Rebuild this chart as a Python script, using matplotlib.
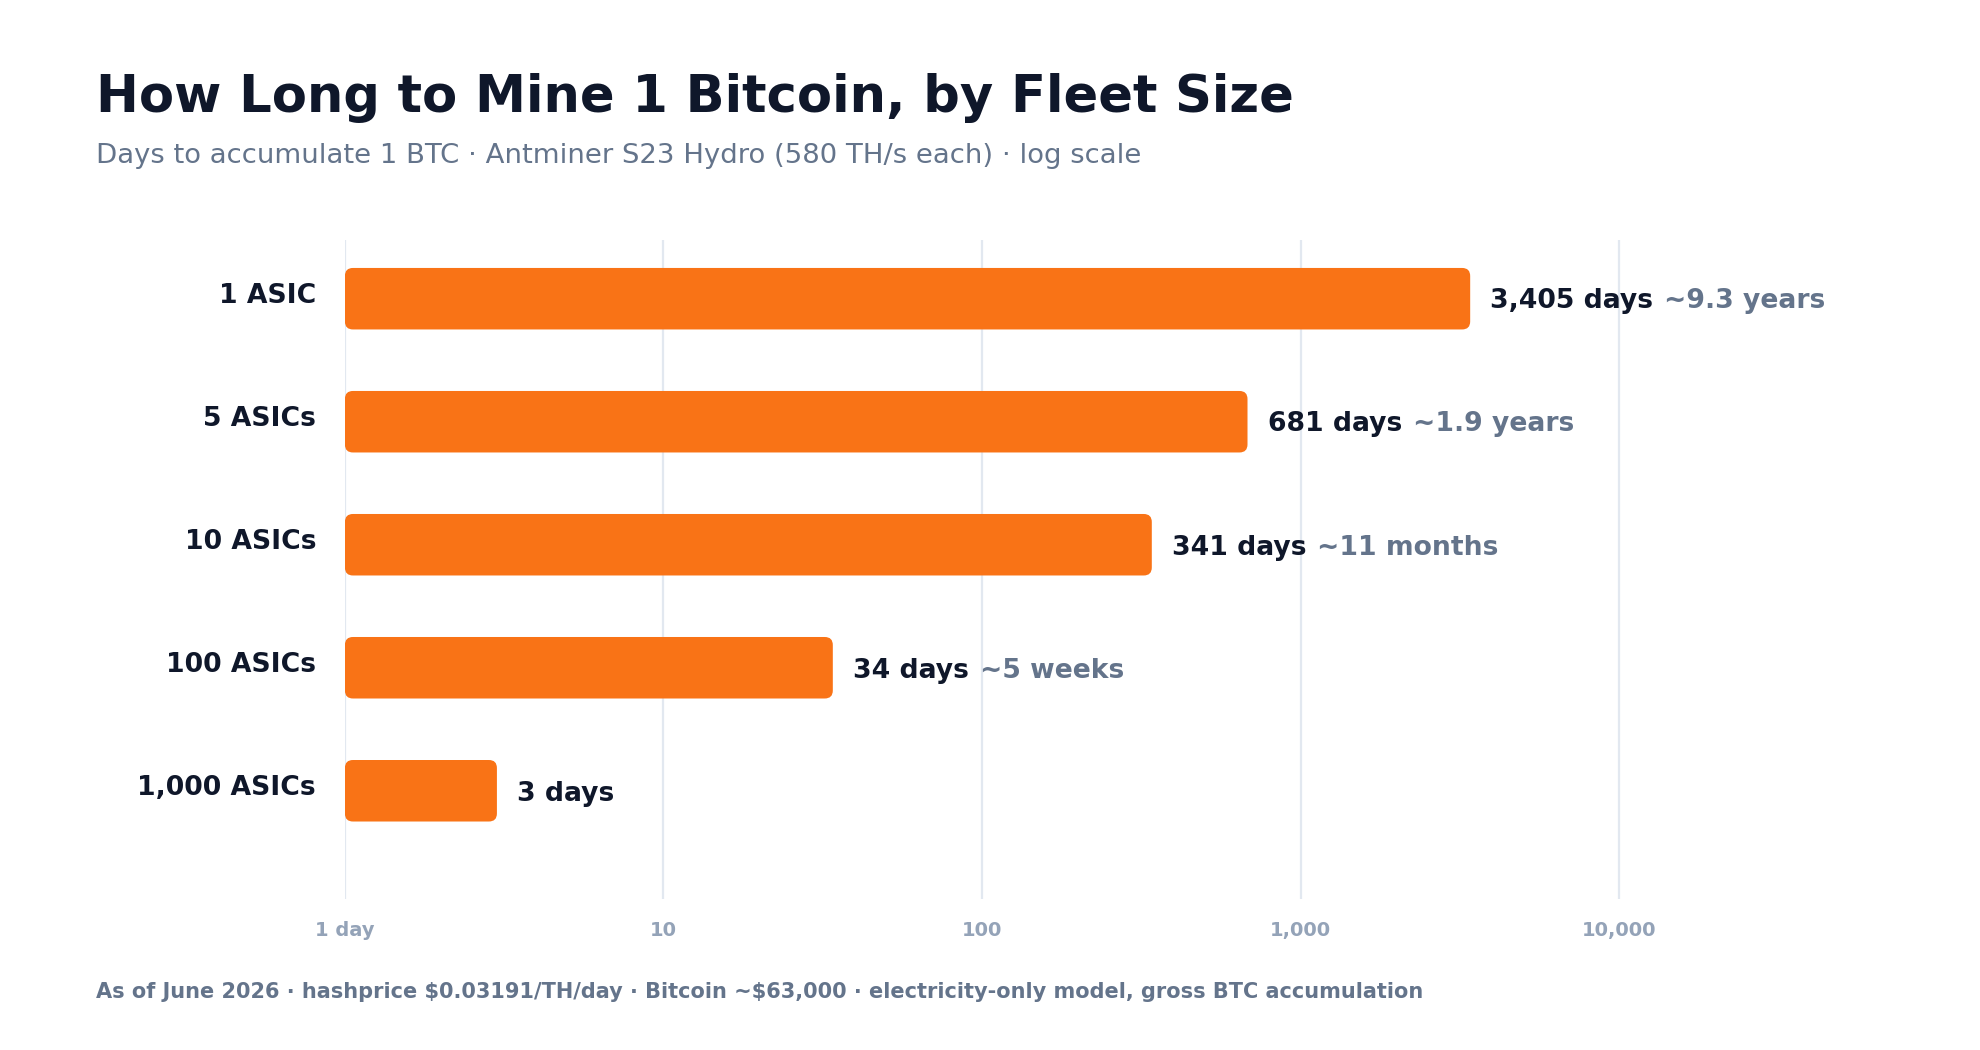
import matplotlib
matplotlib.use("Agg")
import matplotlib.pyplot as plt
from matplotlib.patches import FancyBboxPatch
from matplotlib.transforms import IdentityTransform, ScaledTranslation
from matplotlib.ticker import FixedLocator, NullLocator

fleet = ["1 ASIC", "5 ASICs", "10 ASICs", "100 ASICs", "1,000 ASICs"]
days = [3405, 681, 341, 34, 3]
day_labels = ["3,405 days", "681 days", "341 days", "34 days", "3 days"]
approx = ["~9.3 years", "~1.9 years", "~11 months", "~5 weeks", ""]
xticks = [1, 10, 100, 1000, 10000]
xtick_labels = ["1 day", "10", "100", "1,000", "10,000"]

DARK = "#0f172a"
SLATE = "#64748b"
LIGHT = "#94a3b8"
ORANGE = "#f97316"
GRID = "#e2e8f0"

fig = plt.figure(figsize=(9.9, 5.25), dpi=200)
ax = fig.add_axes([0.1742, 0.1438, 0.8045, 0.6276])
ax.set_xscale("log")
ax.set_xlim(1, 1e5)
ax.set_ylim(4.88, -0.477)

for s in ax.spines.values():
    s.set_visible(False)

ax.xaxis.set_major_locator(FixedLocator(xticks))
ax.xaxis.set_minor_locator(NullLocator())
ax.set_xticklabels(xtick_labels, fontsize=7, fontweight="bold", color=LIGHT)
ax.set_yticks(range(len(fleet)))
ax.set_yticklabels(fleet, fontsize=9.6, fontweight="bold", color=DARK)
ax.tick_params(axis="x", length=0, pad=8)
ax.tick_params(axis="y", length=0, pad=10.4)
# category labels sit a little above the bar centre
up = ScaledTranslation(0, 2.2 / 72, fig.dpi_scale_trans)
for lbl in ax.get_yticklabels():
    lbl.set_transform(lbl.get_transform() + up)
ax.grid(axis="x", color=GRID, linewidth=0.8)
ax.set_axisbelow(True)

# rounded bars, drawn in pixel space from the log-scaled data positions
for i, v in enumerate(days):
    x0, y0 = ax.transData.transform((1, i + 0.25))
    x1, y1 = ax.transData.transform((v, i - 0.25))
    ax.add_patch(FancyBboxPatch((x0, y0), x1 - x0, y1 - y0,
                                boxstyle="round,pad=0,rounding_size=8",
                                transform=IdentityTransform(),
                                fc=ORANGE, ec="none", zorder=3))
    t = ax.annotate(day_labels[i], xy=(v, i), xytext=(7.2, -1),
                    textcoords="offset points", va="center", ha="left",
                    fontsize=9.6, fontweight="bold", color=DARK)
    if approx[i]:
        ax.annotate(approx[i], xy=(1, 0.5), xycoords=t, xytext=(4, 0),
                    textcoords="offset points", va="center", ha="left",
                    fontsize=9.6, fontweight="bold", color=SLATE)

fig.text(0.0485, 0.8935, "How Long to Mine 1 Bitcoin, by Fleet Size",
         fontsize=18.4, fontweight="bold", color=DARK, va="baseline")
fig.text(0.0485, 0.845,
         "Days to accumulate 1 BTC · Antminer S23 Hydro (580 TH/s each) · log scale",
         fontsize=9.9, color=SLATE, va="baseline")
fig.text(0.0485, 0.05,
         "As of June 2026 · hashprice \\$0.03191/TH/day · Bitcoin ~\\$63,000 · "
         "electricity-only model, gross BTC accumulation",
         fontsize=7.5, fontweight="bold", color=SLATE, va="baseline")

fig.savefig("out.png", dpi=200, facecolor="white")
